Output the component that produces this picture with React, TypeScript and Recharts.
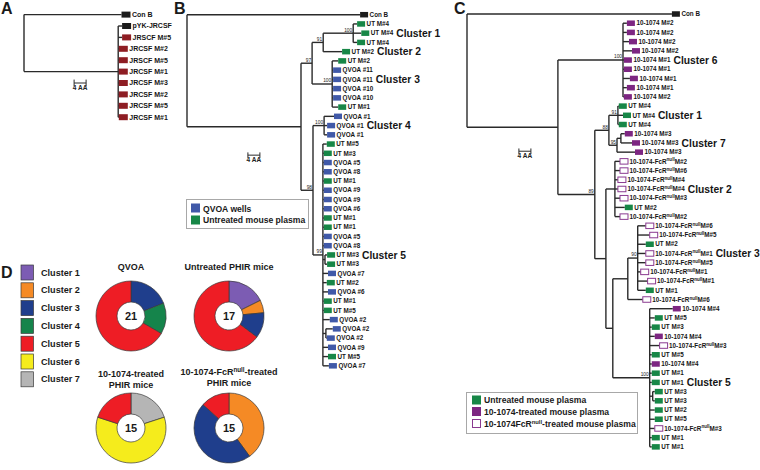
import React from "react";
import {
  ScatterChart,
  Scatter,
  XAxis,
  YAxis,
  ReferenceLine,
  PieChart,
  Pie,
  Cell,
} from "recharts";

const FONT = "'Liberation Sans', Arial, Helvetica, sans-serif";

// ---- tree data (branch lengths in amino acids, 1 AA = 3px) ----
type TreeNode = {
  len: number;
  label?: string;
  kind?: string;
  cluster?: string;
  support?: number;
  children?: TreeNode[];
};

const leaf = (len: number, label: string, kind: string, cluster?: string): TreeNode => ({
  len,
  label,
  kind,
  cluster,
});
const node = (len: number, children: TreeNode[], support?: number): TreeNode => ({
  len,
  children,
  support,
});

const treeA = node(0, [
  leaf(32.5, "Con B", "conb"),
  node(31.4, [
    leaf(1.3, "pYK-JRCSF", "conb"),
    leaf(1.3, "JRSCF M#5", "jr"),
    leaf(0.2, "JRCSF M#2", "jr"),
    leaf(0.2, "JRSCF M#5", "jr"),
    leaf(0.2, "JRCSF M#1", "jr"),
    leaf(0.2, "JRCSF M#3", "jr"),
    leaf(0.2, "JRCSF M#2", "jr"),
    leaf(0.2, "JRCSF M#5", "jr"),
    leaf(0.2, "JRCSF M#1", "jr"),
  ]),
]);

const clusterB1 = node(10, [
  leaf(1.3, "UT M#4", "ut"),
  leaf(2.7, "UT M#4", "ut", "Cluster 1"),
  leaf(1.3, "UT M#4", "ut"),
], 100);

const clusterB3 = node(6.7, [
  leaf(2, "UT M#2", "ut"),
  leaf(0.3, "QVOA #11", "qvoa"),
  leaf(0.3, "QVOA #11", "qvoa", "Cluster 3"),
  leaf(0.3, "QVOA #10", "qvoa"),
  leaf(0.3, "QVOA #10", "qvoa"),
  leaf(2, "UT M#1", "ut"),
], 100);

const clusterB4 = node(3.7, [
  leaf(3.3, "QVOA #1", "qvoa"),
  leaf(1, "QVOA #1", "qvoa", "Cluster 4"),
  leaf(1, "QVOA #1", "qvoa"),
], 100);

const clusterB5 = node(3.3, [
  leaf(1.3, "UT M#5", "ut"),
  leaf(0.3, "UT M#3", "ut"),
  leaf(0.3, "QVOA #5", "qvoa"),
  leaf(0.3, "QVOA #8", "qvoa"),
  leaf(0.3, "UT M#1", "ut"),
  leaf(0.3, "QVOA #9", "qvoa"),
  leaf(0.3, "QVOA #9", "qvoa"),
  leaf(0.3, "QVOA #6", "qvoa"),
  leaf(0.3, "UT M#1", "ut"),
  leaf(0.3, "UT M#1", "ut"),
  leaf(0.3, "QVOA #5", "qvoa"),
  leaf(0.3, "QVOA #8", "qvoa"),
  node(0.7, [leaf(0.7, "UT M#3", "ut", "Cluster 5"), leaf(0.7, "UT M#3", "ut")]),
  leaf(1.7, "QVOA #7", "qvoa"),
  leaf(1.3, "UT M#2", "ut"),
  leaf(1.7, "QVOA #6", "qvoa"),
  leaf(0.3, "UT M#1", "ut"),
  leaf(0.3, "UT M#5", "ut"),
  leaf(2.3, "QVOA #2", "qvoa"),
  node(1, [leaf(2.3, "QVOA #2", "qvoa"), leaf(0.3, "QVOA #2", "qvoa")]),
  leaf(1.7, "QVOA #9", "qvoa"),
  leaf(1.7, "UT M#5", "ut"),
  leaf(2, "QVOA #7", "qvoa"),
], 99);

const treeB = node(0, [
  leaf(57.7, "Con B", "conb"),
  node(38, [
    node(3.7, [
      node(3.7, [clusterB1, leaf(6.3, "UT M#2", "ut", "Cluster 2")], 91),
      clusterB3,
    ], 97),
    node(4, [clusterB4, clusterB5], 98),
  ]),
]);

const clusterC6 = node(21.7, [
  leaf(1.3, "10-1074 M#2", "t"),
  leaf(1.3, "10-1074 M#2", "t"),
  leaf(2, "10-1074 M#2", "t"),
  leaf(3, "10-1074 M#2", "t"),
  leaf(0.3, "10-1074 M#1", "t", "Cluster 6"),
  leaf(0.3, "10-1074 M#1", "t"),
  leaf(2.3, "10-1074 M#1", "t"),
  leaf(1.3, "10-1074 M#1", "t"),
  leaf(0.3, "10-1074 M#2", "t"),
], 100);

const clusterC1 = node(3, [
  leaf(0.3, "UT M#4", "ut"),
  leaf(1.7, "UT M#4", "ut", "Cluster 1"),
  leaf(0.3, "UT M#4", "ut"),
], 91);

const clusterC7 = node(2.7, [
  node(1.3, [leaf(1.3, "10-1074 M#3", "t"), leaf(3.7, "10-1074 M#3", "t", "Cluster 7")]),
  leaf(6, "10-1074 M#3", "t"),
], 95);

const clusterC2 = node(3, [
  leaf(1.7, "10-1074-FcR^null M#2", "fcr"),
  leaf(1.7, "10-1074-FcR^null M#6", "fcr"),
  leaf(1, "10-1074-FcR^null M#4", "fcr"),
  leaf(1, "10-1074-FcR^null M#4", "fcr", "Cluster 2"),
  leaf(1.7, "10-1074-FcR^null M#3", "fcr"),
  leaf(3.3, "UT M#2", "ut"),
  leaf(1.7, "10-1074-FcR^null M#2", "fcr"),
]);

const clusterC3 = node(3.3, [
  leaf(2.7, "10-1074-FcR^null M#6", "fcr"),
  leaf(4, "10-1074-FcR^null M#5", "fcr"),
  leaf(2.7, "UT M#2", "ut"),
  leaf(2.7, "10-1074-FcR^null M#1", "fcr", "Cluster 3"),
  leaf(2.7, "10-1074-FcR^null M#5", "fcr"),
  leaf(1, "10-1074-FcR^null M#1", "fcr"),
  leaf(3.3, "10-1074-FcR^null M#1", "fcr"),
  leaf(2.7, "UT M#1", "ut"),
], 90);

const clusterC5 = node(12.3, [
  leaf(7.7, "10-1074 M#4", "t"),
  leaf(1.7, "UT M#5", "ut"),
  leaf(0.7, "UT M#3", "ut"),
  leaf(1.7, "10-1074 M#4", "t"),
  leaf(3.3, "10-1074-FcR^null M#3", "fcr"),
  leaf(0.7, "UT M#5", "ut"),
  leaf(0.7, "10-1074 M#4", "t"),
  leaf(0.7, "UT M#1", "ut"),
  leaf(0.7, "UT M#1", "ut", "Cluster 5"),
  node(1, [leaf(0.7, "UT M#3", "ut"), leaf(0.7, "UT M#3", "ut")]),
  leaf(1.7, "UT M#2", "ut"),
  leaf(1.7, "UT M#5", "ut"),
  leaf(1.7, "10-1074-FcR^null M#3", "fcr"),
  leaf(0.7, "UT M#1", "ut"),
  leaf(0.7, "UT M#1", "ut"),
], 100);

const treeC = node(0, [
  leaf(68.3, "Con B", "conb"),
  node(30.3, [
    clusterC6,
    node(12.3, [
      node(4.7, [clusterC1, clusterC7], 88),
      node(3.7, [
        clusterC2,
        node(2.3, [
          node(5, [clusterC3, leaf(5, "10-1074-FcR^null M#6", "fcr")]),
          clusterC5,
        ]),
      ]),
    ], 89),
  ]),
]);

// ---- pie data (sequence counts per cluster, clockwise from 12 o'clock) ----
const clusterNames = ["Cluster 1", "Cluster 2", "Cluster 3", "Cluster 4", "Cluster 5", "Cluster 6", "Cluster 7"];
const clusterColors = ["#7c5cb3", "#f58a25", "#1f3e8c", "#15844b", "#ee1d25", "#f5ec1c", "#b5b5b5"];

const qvoaSlices = [
  { cluster: 3, count: 4 },
  { cluster: 4, count: 3 },
  { cluster: 5, count: 14 },
];
const untreatedSlices = [
  { cluster: 1, count: 3 },
  { cluster: 2, count: 1 },
  { cluster: 3, count: 2 },
  { cluster: 5, count: 11 },
];
const treatedSlices = [
  { cluster: 7, count: 3 },
  { cluster: 6, count: 9 },
  { cluster: 5, count: 3 },
];
const fcrSlices = [
  { cluster: 2, count: 6 },
  { cluster: 3, count: 7 },
  { cluster: 5, count: 2 },
];

const kindFill: Record<string, string> = {
  conb: "#1c1c1c",
  jr: "#8e1d23",
  qvoa: "#4059a8",
  ut: "#178747",
  t: "#7d2682",
  fcr: "#ffffff",
};

// ---- layout helper: rectangular phylogram ----
function layoutTree(root: TreeNode) {
  let row = 0;
  const leaves: any[] = [];
  const inner: any[] = [];
  const segs: { x: number; y: number }[][] = [];
  const walk = (n: TreeNode, px: number): number => {
    const x = px + n.len;
    if (!n.children) {
      const y = row++;
      leaves.push({ x, y, label: n.label, kind: n.kind, cluster: n.cluster });
      if (n.len > 0) segs.push([{ x: px, y }, { x, y }]);
      return y;
    }
    const ys = n.children.map((c) => walk(c, x));
    const y = (ys[0] + ys[ys.length - 1]) / 2;
    segs.push([{ x, y: ys[0] }, { x, y: ys[ys.length - 1] }]);
    if (n.len > 0) segs.push([{ x: px, y }, { x, y }]);
    if (n.support) inner.push({ x, y, support: n.support });
    return y;
  };
  walk(root, 0);
  return { leaves, inner, segs, rows: row };
}

const LeafMark = (props: any) => {
  const { cx, cy, payload, fs, sw, sh } = props;
  if (cx == null || cy == null) return null;
  const open = payload.kind === "fcr";
  const parts = String(payload.label).split("^null");
  return (
    <g>
      <rect
        x={cx}
        y={cy - sh / 2}
        width={sw}
        height={sh}
        fill={kindFill[payload.kind]}
        stroke={open ? "#8a3a90" : "none"}
        strokeWidth={open ? 1 : 0}
      />
      <text
        x={cx + sw + 1.5}
        y={cy}
        dy="0.35em"
        fontSize={fs}
        fontWeight="bold"
        fontFamily={FONT}
        fill="#151515"
      >
        <tspan>{parts[0]}</tspan>
        {parts.length > 1 && (
          <>
            <tspan dy={-2.2} fontSize={fs * 0.72}>null</tspan>
            <tspan dy={2.2}>{parts[1].trim()}</tspan>
          </>
        )}
        {payload.cluster && (
          <tspan dx={3} dy={1.5} fontSize={10.3}>
            {payload.cluster}
          </tspan>
        )}
      </text>
    </g>
  );
};

const SupportMark = (props: any) => {
  const { cx, cy, payload } = props;
  if (cx == null || cy == null) return null;
  return (
    <text x={cx - 1} y={cy - 1.6} textAnchor="end" fontSize={4.8} fontFamily={FONT} fill="#222">
      {payload.support}
    </text>
  );
};

type PanelProps = {
  tree: TreeNode;
  left: number;
  width: number;
  height: number;
  rowTop: number;
  rowStep: number;
  domainMax: number;
  fs: number;
  sw: number;
  sh: number;
  bar: { x: number; row: number };
};

const TreePanel = ({ tree, left, width, height, rowTop, rowStep, domainMax, fs, sw, sh, bar }: PanelProps) => {
  const lay = layoutTree(tree);
  const plotW = domainMax * 3;
  const plotH = (lay.rows - 1) * rowStep;
  const line = "#2a2a2a";
  return (
    <div style={{ position: "absolute", left, top: 0 }}>
      <ScatterChart
        width={width}
        height={height}
        margin={{ top: rowTop, left: 0, right: width - plotW, bottom: height - rowTop - plotH }}
      >
        <XAxis type="number" dataKey="x" domain={[0, domainMax]} hide />
        <YAxis type="number" dataKey="y" domain={[0, lay.rows - 1]} reversed hide />
        {lay.segs.map((s, i) => (
          <ReferenceLine key={i} segment={s} stroke={line} strokeWidth={1.4} ifOverflow="visible" />
        ))}
        <ReferenceLine
          segment={[{ x: bar.x, y: bar.row }, { x: bar.x + 4, y: bar.row }]}
          stroke={line}
          strokeWidth={1}
          ifOverflow="visible"
          label={{ value: "4 AA", position: "bottom", offset: 2, fontSize: 6.5, fontWeight: "bold", fontFamily: FONT, fill: "#222" }}
        />
        <ReferenceLine segment={[{ x: bar.x, y: bar.row - 0.3 }, { x: bar.x, y: bar.row + 0.3 }]} stroke={line} ifOverflow="visible" />
        <ReferenceLine segment={[{ x: bar.x + 4, y: bar.row - 0.3 }, { x: bar.x + 4, y: bar.row + 0.3 }]} stroke={line} ifOverflow="visible" />
        <Scatter
          data={lay.leaves}
          isAnimationActive={false}
          shape={(p: any) => <LeafMark {...p} fs={fs} sw={sw} sh={sh} />}
        />
        <Scatter data={lay.inner} isAnimationActive={false} shape={(p: any) => <SupportMark {...p} />} />
      </ScatterChart>
    </div>
  );
};

const PIE_TOP = 255;
const pieLayout = [
  { slices: qvoaSlices, cx: 131, cy: 61 },
  { slices: untreatedSlices, cx: 229, cy: 61 },
  { slices: treatedSlices, cx: 131, cy: 173 },
  { slices: fcrSlices, cx: 229, cy: 173 },
];

const txt = { fontFamily: FONT, fontWeight: "bold" as const, fill: "#1a1a1a" };

export default function App() {
  return (
    <div style={{ position: "absolute", left: 0, top: 0, width: 760, height: 470, background: "#fff", overflow: "hidden" }}>
      <style>{".recharts-surface{overflow:visible}"}</style>
      <TreePanel tree={treeA} left={24} width={136} height={140} rowTop={14.6} rowStep={11.4} domainMax={40} fs={7} sw={9} sh={6} bar={{ x: 16.7, row: 6 }} />
      <TreePanel tree={treeB} left={187} width={203} height={470} rowTop={14.7} rowStep={9.24} domainMax={65} fs={6.3} sw={8} sh={5.5} bar={{ x: 20.3, row: 15.2 }} />
      <TreePanel tree={treeC} left={467} width={293} height={470} rowTop={14} rowStep={9.21} domainMax={95} fs={6.3} sw={8} sh={5.5} bar={{ x: 17.3, row: 14.9 }} />

      <div style={{ position: "absolute", left: 0, top: PIE_TOP }}>
        <PieChart width={380} height={215} margin={{ top: 0, right: 0, bottom: 0, left: 0 }}>
          {pieLayout.map((p, i) => (
            <Pie
              key={i}
              data={p.slices}
              dataKey="count"
              cx={p.cx}
              cy={p.cy}
              innerRadius={14}
              outerRadius={35}
              startAngle={90}
              endAngle={-270}
              stroke="#3a3a3a"
              strokeWidth={0.7}
              isAnimationActive={false}
            >
              {p.slices.map((s, j) => (
                <Cell key={j} fill={clusterColors[s.cluster - 1]} />
              ))}
            </Pie>
          ))}
        </PieChart>
      </div>

      <svg width={760} height={470} style={{ position: "absolute", left: 0, top: 0, pointerEvents: "none" }}>
        <text x={1} y={13.5} fontSize={16} {...txt}>A</text>
        <text x={174} y={13.5} fontSize={16} {...txt}>B</text>
        <text x={454} y={13.5} fontSize={16} {...txt}>C</text>
        <text x={1} y={278} fontSize={16} {...txt}>D</text>

        {/* panel B legend */}
        <rect x={186.5} y={199.5} width={122} height={29} fill="#fff" stroke="#a8a8a8" />
        <rect x={191} y={203.5} width={9} height={9} fill={kindFill.qvoa} />
        <text x={203} y={208.5} dy="0.35em" fontSize={8.6} {...txt}>QVOA wells</text>
        <rect x={191} y={215.5} width={9} height={9} fill={kindFill.ut} />
        <text x={203} y={220.3} dy="0.35em" fontSize={8.6} {...txt}>Untreated mouse plasma</text>

        {/* panel C legend */}
        <rect x={466.5} y={392.5} width={171} height={41} fill="#fff" stroke="#a8a8a8" />
        <rect x={472} y={395.5} width={9} height={9} fill={kindFill.ut} />
        <text x={484} y={399.5} dy="0.35em" fontSize={8.6} {...txt}>Untreated mouse plasma</text>
        <rect x={472} y={407} width={9} height={9} fill={kindFill.t} />
        <text x={484} y={411.5} dy="0.35em" fontSize={8.6} {...txt}>10-1074-treated mouse plasma</text>
        <rect x={472.5} y={419.5} width={8} height={8} fill="#fff" stroke="#8a3a90" />
        <text x={484} y={423.5} dy="0.35em" fontSize={8.6} {...txt}>
          10-1074FcR<tspan dy={-3} fontSize={5.8}>null</tspan>
          <tspan dy={3}>-treated mouse plasma</tspan>
        </text>

        {/* panel D legend */}
        {clusterNames.map((name, i) => (
          <g key={name}>
            <rect x={21} y={265 + i * 17.8} width={12.5} height={15} fill={clusterColors[i]} stroke="#3a3a3a" strokeWidth={0.7} />
            <text x={41} y={272.5 + i * 17.8} dy="0.35em" fontSize={9.1} {...txt}>{name}</text>
          </g>
        ))}

        {/* pie centre totals */}
        {pieLayout.map((p, i) => (
          <text key={i} x={p.cx} y={PIE_TOP + p.cy} dy="0.36em" textAnchor="middle" fontSize={11} {...txt}>
            {p.slices.reduce((a, s) => a + s.count, 0)}
          </text>
        ))}

        {/* pie titles */}
        <text x={131} y={270} textAnchor="middle" fontSize={9} {...txt}>QVOA</text>
        <text x={229} y={270} textAnchor="middle" fontSize={9} {...txt}>Untreated PHIR mice</text>
        <text x={131} y={377} textAnchor="middle" fontSize={9} {...txt}>10-1074-treated</text>
        <text x={131} y={387.5} textAnchor="middle" fontSize={9} {...txt}>PHIR mice</text>
        <text x={229} y={375} textAnchor="middle" fontSize={9} {...txt}>
          10-1074-FcR<tspan dy={-3} fontSize={6.3}>null</tspan>
          <tspan dy={3}>-treated</tspan>
        </text>
        <text x={229} y={386} textAnchor="middle" fontSize={9} {...txt}>PHIR mice</text>
      </svg>
    </div>
  );
}
